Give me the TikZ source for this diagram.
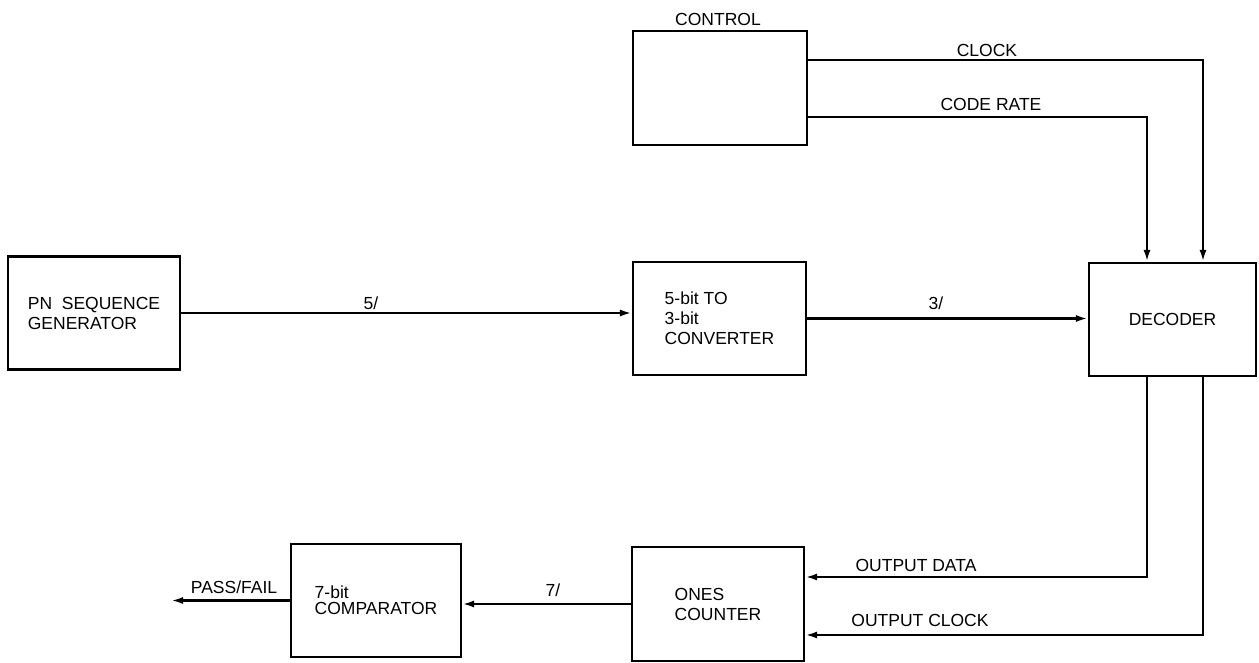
\documentclass[tikz,border=0pt]{standalone}
\usepackage{fontspec}
\setmainfont{Liberation Sans}
\usetikzlibrary{arrows.meta}
\begin{document}
\begin{tikzpicture}[x=1pt,y=-1pt,
  box/.style={draw,line width=2.2pt,inner sep=0pt,align=left,font=\fontsize{17.5}{20}\selectfont},
  lbl/.style={font=\fontsize{17.5}{20}\selectfont,inner sep=0pt},
  conn/.style={line width=2.4pt,-{Latex[length=12pt,width=7pt]}}]
\useasboundingbox (0,0) rectangle (1259,663);
\node[box,minimum width=172pt,minimum height=113pt] (pn) at (94,313) {PN\ \ SEQUENCE\\GENERATOR};
\node[box,minimum width=174pt,minimum height=114pt] (control) at (720,88) {};
\node[lbl] (controltxt) at (718,19) {CONTROL};
\node[box,minimum width=173pt,minimum height=113pt] (conv) at (719.5,318.5) {5-bit TO\\3-bit\\CONVERTER};
\node[box,minimum width=167pt,minimum height=113pt,align=center] (dec) at (1172.5,319.5) {DECODER};
\node[box,minimum width=172pt,minimum height=114pt] (ones) at (718,604) {ONES\\COUNTER};
\node[box,minimum width=170pt,minimum height=113pt] (comp) at (376,600.5) {7-bit\\[-4pt]COMPARATOR};
\coordinate (pf) at (171,600.5);
% connectors
\draw[conn] (pn.east) -- (pn.east -| conv.west);
\draw[conn] (conv.east) -- (conv.east -| dec.west);
\draw[conn] ([yshift=28pt]control.east) -| ([xshift=30.5pt]dec.north);
\draw[conn] ([yshift=-29pt]control.east) -| ([xshift=-25.5pt]dec.north);
\draw[conn] ([xshift=-25.5pt]dec.south) |- ([yshift=27pt]ones.east);
\draw[conn] ([xshift=30.5pt]dec.south) |- ([yshift=-31pt]ones.east);
\draw[conn] (ones.west) -- (ones.west -| comp.east);
\draw[conn] (comp.west) -- (pf);
% labels
\node[lbl] (l5) at (371,303) {5/};
\node[lbl] (l3) at (936,303) {3/};
\node[lbl] (l7) at (553,590) {7/};
\node[lbl] (lclk) at (987,50) {CLOCK};
\node[lbl] (lcr) at (991,104) {CODE RATE};
\node[lbl] (lod) at (916,565) {OUTPUT DATA};
\node[lbl] (loc) at (920,620) {OUTPUT CLOCK};
\node[lbl] (lpf) at (234,587) {PASS/FAIL};
\end{tikzpicture}
\end{document}
